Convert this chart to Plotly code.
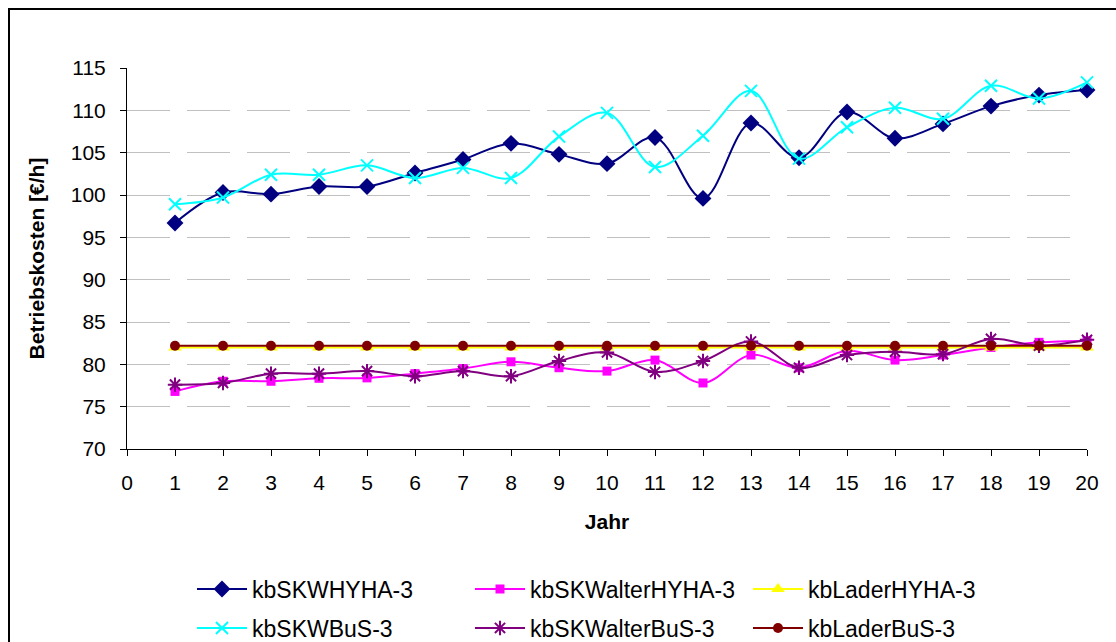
import plotly.graph_objects as go

years = [1, 2, 3, 4, 5, 6, 7, 8, 9, 10, 11, 12, 13, 14, 15, 16, 17, 18, 19, 20]

kbSKWHYHA = [96.7, 100.3, 100.1, 101.0, 101.0, 102.6, 104.2, 106.1, 104.8, 103.7,
             106.8, 99.6, 108.5, 104.4, 109.8, 106.7, 108.4, 110.5, 111.8, 112.4]
kbSKWalterHYHA = [76.8, 78.0, 78.0, 78.35, 78.4, 78.9, 79.5, 80.3, 79.6, 79.2,
                  80.5, 77.8, 81.1, 79.6, 81.6, 80.5, 81.1, 82.0, 82.6, 82.8]
kbLaderHYHA = [82.0] * 20
kbSKWBuS = [98.9, 99.7, 102.4, 102.4, 103.5, 102.0, 103.2, 102.0, 106.9, 109.7,
            103.3, 107.0, 112.3, 104.3, 108.0, 110.3, 109.0, 112.9, 111.4, 113.3]
kbSKWalterBuS = [77.6, 77.8, 78.9, 78.9, 79.2, 78.6, 79.2, 78.6, 80.4, 81.4,
                 79.1, 80.4, 82.7, 79.6, 81.1, 81.5, 81.2, 83.0, 82.2, 82.9]
kbLaderBuS = [82.2] * 20

series = [
    ("kbSKWHYHA-3", kbSKWHYHA, "#000080", "diamond", 13, "legend"),
    ("kbSKWalterHYHA-3", kbSKWalterHYHA, "#FF00FF", "square", 9, "legend"),
    ("kbLaderHYHA-3", kbLaderHYHA, "#FFFF00", "triangle-up", 12, "legend"),
    ("kbSKWBuS-3", kbSKWBuS, "#00FFFF", "x-thin", 12, "legend2"),
    ("kbSKWalterBuS-3", kbSKWalterBuS, "#800080", "asterisk", 12, "legend2"),
    ("kbLaderBuS-3", kbLaderBuS, "#800000", "circle", 10, "legend2"),
]

FONT = "Liberation Sans, Arial, sans-serif"

fig = go.Figure()
for name, vals, col, sym, size, lg in series:
    line_marker = sym in ("x-thin", "asterisk")
    fig.add_trace(go.Scatter(
        x=years, y=vals, name=name, mode="lines+markers",
        line=dict(color=col, width=2, shape="spline", smoothing=1),
        marker=dict(symbol=sym, size=size, color=col,
                    line=dict(color=col, width=2 if line_marker else 0)),
        cliponaxis=False, legend=lg,
    ))

L, R, T, B = 127, 29, 68, 193
W, H = 1116, 642
pw, ph = W - L - R, H - T - B

def px2paper_x(px):
    return (px - L) / pw

def py2paper_y(py):
    return (H - B - py) / ph

fig.add_shape(type="rect", xref="paper", yref="paper",
              x0=px2paper_x(9), x1=px2paper_x(1125),
              y0=py2paper_y(9), y1=py2paper_y(660),
              line=dict(color="black", width=2), fillcolor="rgba(0,0,0,0)", layer="below")

leg_common = dict(orientation="h", xref="container", yref="container",
                  xanchor="left", yanchor="middle",
                  font=dict(family=FONT, size=23, color="black"),
                  itemwidth=50, entrywidth=213, entrywidthmode="pixels",
                  bgcolor="rgba(0,0,0,0)", borderwidth=0, itemclick=False,
                  tracegroupgap=0)

fig.update_layout(
    width=W, height=H,
    margin=dict(l=L, r=R, t=T, b=B),
    paper_bgcolor="white", plot_bgcolor="white",
    font=dict(family=FONT, size=21, color="black"),
    showlegend=True,
    legend=dict(x=192 / W, y=1 - 589 / H, **leg_common),
    legend2=dict(x=192 / W, y=1 - 628 / H, **leg_common),
    xaxis=dict(
        range=[0, 20], tickmode="linear", tick0=0, dtick=1,
        showgrid=False, zeroline=False,
        showline=True, linecolor="black", linewidth=1,
        ticks="outside", ticklen=6, tickcolor="black",
        tickfont=dict(family=FONT, size=21),
        ticklabelstandoff=9,
        title=dict(text="<b>Jahr</b>", font=dict(family=FONT, size=21), standoff=21),
    ),
    yaxis=dict(
        range=[70, 115], tickmode="linear", tick0=70, dtick=5,
        showgrid=True, gridcolor="#C0C0C0", gridwidth=1, griddash="43px,17px",
        zeroline=False,
        showline=True, linecolor="black", linewidth=1,
        ticks="outside", ticklen=6, tickcolor="black",
        tickfont=dict(family=FONT, size=21),
        ticklabelstandoff=10,
        title=dict(text="<b>Betriebskosten [€/h]</b>", font=dict(family=FONT, size=21), standoff=20),
    ),
)

fig.write_html("out.html")
